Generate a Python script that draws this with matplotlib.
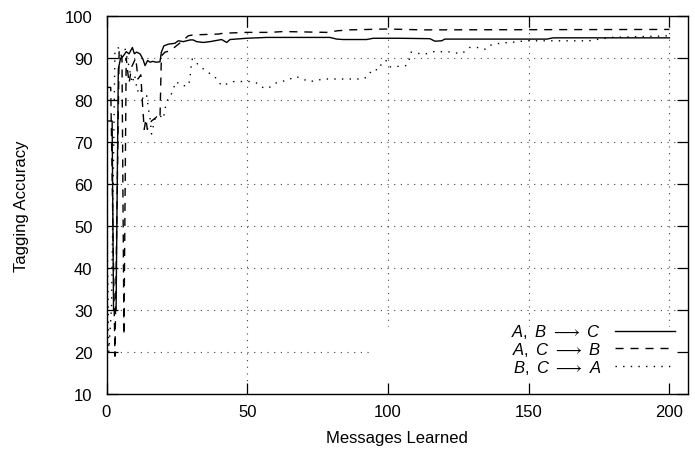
import numpy as np
import matplotlib.pyplot as plt
from matplotlib.patches import Rectangle

plt.rcParams['font.family'] = ['Liberation Sans', 'DejaVu Sans']
plt.rcParams['mathtext.fontset'] = 'custom'
plt.rcParams['mathtext.rm'] = 'Liberation Sans'
plt.rcParams['mathtext.it'] = 'Liberation Sans:italic'
plt.rcParams['mathtext.fallback'] = 'stixsans'

# A,B -> C
abc_x = [0, 2, 2.5, 3.4, 4.2, 5.0, 6, 7, 8, 9.2, 9.9, 10.7, 11.9, 12.9, 13.7, 14.6, 15.5,
         16.4, 17.6, 19.0, 19.5, 20.4, 22, 24.3, 25.5, 27.3, 29.7, 30.8, 32, 34.4, 36.8,
         40.9, 42.7, 43.9, 49.8, 56.9, 68.7, 79.4, 81.8, 84.1, 92.4, 94.8, 104, 114.9,
         116.7, 119.1, 120.2, 156.4, 158.7, 200]
abc_y = [75, 75, 30, 30, 87.4, 89.9, 90.5, 91.5, 91, 92.5, 91, 91.4, 91, 89.8, 88.2, 89.4, 89,
         89.2, 89, 89.1, 91.4, 92.9, 93.3, 93.5, 94.1, 93.9, 94.3, 94.3, 93.9, 93.7, 93.9,
         94.4, 93.7, 94.4, 94.7, 94.9, 94.9, 94.9, 94.5, 94.4, 94.4, 94.7, 94.7, 94.6,
         94.0, 94.1, 94.5, 94.5, 94.8, 94.8]

# A,C -> B
acb_x = [0, 1.5, 3.0, 4.5, 5.5, 6.2, 7, 8, 9, 10.4, 11.2, 12.2, 12.7, 13.4, 14.0, 14.5,
         16, 17.9, 19, 19.5, 20.8, 22, 23.2, 25, 26.5, 29.1, 30.8, 39.7, 41.5, 49.8, 58,
         62.8, 78.2, 82.3, 86.5, 99.5, 112.4, 200]
acb_y = [83, 83, 19, 92, 90, 24, 90, 84, 88, 90, 85, 86, 80, 73, 75.5, 73,
         75, 76, 75.5, 90.5, 91.4, 91.6, 92, 93, 93.8, 95.3, 95.5, 95.7, 95.9, 96.1, 96.1,
         96.3, 96.1, 96.5, 96.7, 96.9, 96.7, 96.8]

# B,C -> A
bca_x = [0, 0.8, 1.8, 3.0, 4.8, 6.6, 8, 9.1, 10, 11, 12, 13, 14.3, 14.9, 15.5, 16,
         17.2, 19, 20.2, 20.8, 21.8, 22.6, 23.7, 24.7, 26.7, 29.1, 29.7, 29.9, 30.5,
         32.3, 34.4, 36.5, 38.9, 40.9, 45.3, 50.7, 53.6, 55.5, 57.5, 59.9, 64.6, 65.9,
         67.3, 69.7, 71.9, 74.4, 76.9, 91.1, 92.9, 94.3, 96.8, 97.9, 99.3, 100.7, 103.5,
         106.5, 107.8, 108.2, 110.4, 113.5, 115.9, 121.3, 124.1, 126.6, 128.9, 131.7,
         134.5, 135.6, 138, 140.7, 143.6, 146.2, 149.3, 171.4, 174.1, 179.5, 196.1, 200]
bca_y = [60, 20, 31, 92, 92.6, 92.1, 88, 84, 86, 82, 83, 80, 81, 77.9, 75.5, 71.9,
         75.5, 76.3, 75.5, 78, 80.2, 80.6, 82.6, 84.4, 83.4, 83.4, 85.2, 87.2, 89.8,
         88.6, 87.4, 86.4, 85.2, 83.4, 84.4, 84.4, 84, 83, 82.8, 84, 84.8, 85.2,
         85.6, 85, 84.4, 84.6, 85, 85, 85.6, 87.2, 87.2, 89, 89.4, 87.9, 88,
         88.2, 90, 91.4, 91.1, 91, 91.5, 91.5, 91.2, 91.2, 92.5, 92.5,
         92.1, 92.9, 93.3, 93.6, 93.7, 93.9, 94.1, 94.1, 94.4, 94.9, 95.2, 95.3]

x_ticks = [0, 50, 100, 150, 200]
y_ticks = [10, 20, 30, 40, 50, 60, 70, 80, 90, 100]
x_max = 206.6

fig = plt.figure(figsize=(6.95, 4.52), dpi=100)
ax = fig.add_axes([106.5 / 695, 1 - 395 / 452, (688 - 106.5) / 695, (395 - 17) / 452])
ax.set_xlim(0, x_max)
ax.set_ylim(10, 100)

# dotted grid, kept out of the key box
key_x0, key_y1 = 94.7, 26
grid_style = dict(color='#444444', lw=0.8, ls=(0, (1, 5)), zorder=0.5)
for yt in y_ticks[1:-1]:
    ax.plot([0, key_x0 if yt < key_y1 else x_max], [yt, yt], **grid_style)
for xt in x_ticks[1:]:
    ax.plot([xt, xt], [key_y1 if xt > key_x0 else 10, 100], **grid_style)
ax.add_patch(Rectangle((key_x0, 10), x_max - key_x0, key_y1 - 10,
                       facecolor='white', edgecolor='none', zorder=1))

ax.plot(abc_x, abc_y, color='black', lw=1.0, ls='-',
        label=r'$A,\ B\ \longrightarrow\ C$', zorder=2)
ax.plot(acb_x, acb_y, color='black', lw=1.0, ls=(0, (5.8, 5)),
        label=r'$A,\ C\ \longrightarrow\ B$', zorder=2)
ax.plot(bca_x, bca_y, color='black', lw=1.0, ls=(0, (1, 4.5)),
        label=r'$B,\ C\ \longrightarrow\ A$', zorder=2)

ax.set_xticks(x_ticks)
ax.set_yticks(y_ticks)
ax.tick_params(direction='in', length=8, width=0.9, top=True, right=True,
               labelsize=12, colors='black')
ax.tick_params(axis='x', pad=7)
ax.tick_params(axis='y', pad=10)
for s in ax.spines.values():
    s.set_linewidth(1.0)

ax.set_xlabel('Messages Learned', fontsize=12, labelpad=8)
ax.set_ylabel('Tagging Accuracy', fontsize=12, labelpad=26)

ax.legend(loc='lower right', bbox_to_anchor=(0.994, 0.022), frameon=False, markerfirst=False,
          fontsize=12, handlelength=3.6, handletextpad=0.8, labelspacing=-0.02,
          borderpad=0.1)

fig.savefig('out.png', dpi=100)
